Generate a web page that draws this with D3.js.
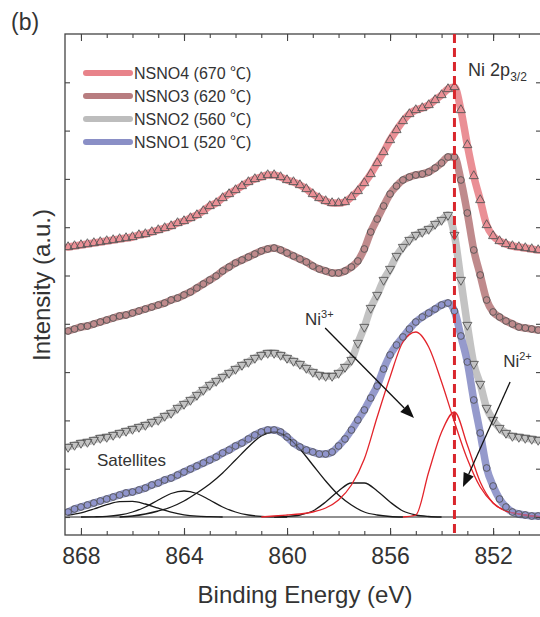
<!DOCTYPE html>
<html>
<head>
<meta charset="utf-8">
<script src="https://cdn.jsdelivr.net/npm/d3@7"></script>
<style>
body { margin: 0; background: #fff; }
svg { display: block; font-family: "Liberation Sans", Arial, sans-serif; }
</style>
</head>
<body>
<svg id="chart" width="540" height="617"></svg>
<script>
// binding energy grid of the measured spectra (eV)
const energy = [868.5, 868.25, 868, 867.75, 867.5, 867.25, 867, 866.75, 866.5, 866.25,
  866, 865.75, 865.5, 865.25, 865, 864.75, 864.5, 864.25, 864, 863.75,
  863.5, 863.25, 863, 862.75, 862.5, 862.25, 862, 861.75, 861.5, 861.25,
  861, 860.75, 860.5, 860.25, 860, 859.75, 859.5, 859.25, 859, 858.75,
  858.5, 858.25, 858, 857.75, 857.5, 857.25, 857, 856.75, 856.5, 856.25,
  856, 855.75, 855.5, 855.25, 855, 854.75, 854.5, 854.25, 854, 853.75,
  853.5, 853.25, 853, 852.75, 852.5, 852.25, 852, 851.75, 851.5, 851.25,
  851, 850.75, 850.5, 850.25, 850];

// stacked intensities (a.u., offset already included)
const nsno4 = [270, 271, 272, 273, 274, 275, 276, 277, 278, 279,
  280, 282, 283, 285, 287, 289, 291, 294, 296, 299,
  302, 306, 311, 314, 319, 323, 327, 331, 335, 338,
  340, 342, 342, 340, 337, 335, 332, 328, 323, 319,
  316, 314, 314, 315, 320, 326, 334, 343, 354, 365,
  377, 387, 396, 403, 407, 409, 412, 417, 422, 428,
  430, 407, 372, 341, 317, 292, 281, 276, 273, 271,
  270, 269, 268, 267, 267];
const nsno3 = [186, 188, 190, 191, 193, 195, 197, 199, 201, 202,
  204, 206, 208, 210, 212, 214, 217, 219, 222, 225,
  229, 233, 237, 241, 246, 250, 254, 257, 260, 263,
  266, 268, 269, 267, 264, 261, 258, 255, 251, 248,
  246, 244, 244, 246, 250, 256, 268, 285, 298, 311,
  323, 331, 337, 340, 342, 343, 345, 349, 354, 360,
  360, 337, 304, 267, 242, 217, 205, 200, 196, 193,
  190, 189, 188, 187, 187];
const nsno2 = [70, 72, 74, 75, 77, 79, 80, 82, 84, 86,
  88, 90, 92, 95, 97, 101, 104, 109, 113, 117,
  122, 127, 132, 136, 140, 144, 148, 152, 155, 159,
  162, 164, 164, 162, 159, 156, 153, 149, 145, 142,
  141, 141, 144, 150, 157, 174, 190, 209, 222, 237,
  248, 261, 270, 277, 282, 285, 288, 293, 297, 302,
  282, 237, 192, 153, 133, 109, 97, 89, 84, 81,
  80, 79, 78, 77, 77];
const nsno1 = [5, 8, 10, 12, 14, 16, 18, 20, 22, 24,
  25, 27, 29, 32, 34, 37, 39, 42, 45, 48,
  51, 54, 57, 60, 64, 67, 71, 74, 78, 82,
  85, 87, 87, 85, 80, 74, 70, 67, 65, 63,
  63, 65, 71, 78, 87, 97, 107, 119, 131, 148,
  162, 172, 180, 188, 195, 200, 204, 208, 212, 214,
  206, 181, 155, 117, 84, 49, 31, 18, 10, 5,
  3, 2, 1, 1, 0];

const seriesNames = ["NSNO4 (670 ℃)", "NSNO3 (620 ℃)", "NSNO2 (560 ℃)", "NSNO1 (520 ℃)"];

// fitted components of NSNO1, on a coarser grid
const compEnergy = [868.5, 868, 867.5, 867, 866.5, 866, 865.5, 865, 864.5, 864,
  863.5, 863, 862.5, 862, 861.5, 861, 860.5, 860, 859.5, 859,
  858.5, 858, 857.5, 857, 856.5, 856, 855.5, 855, 854.5, 854,
  853.5, 853, 852.5, 852, 851.5, 851, 850.5, 850];
const satA = [0, 0, 0, 0, 0, 1, 3, 6, 10, 16, 24, 33, 44, 57, 70, 81, 85, 80, 68, 52,
  36, 22, 12, 5, 2, 0.5, 0, 0, 0, 0, 0, 0, 0, 0, 0, 0, 0, 0];
const satB = [0, 0, 0, 0, 0, 0, 0, 0, 0, 0, 0, 0, 0, 0, 0, 0, 0, 0.5, 2, 6,
  15, 26, 34, 34, 26, 15, 6, 2, 0.5, 0, 0, 0, 0, 0, 0, 0, 0, 0];
const satC = [0, 0, 0.2, 0.6, 2, 5, 10, 17, 23.5, 26, 23.5, 17, 10, 5, 2, 0.6, 0.2, 0, 0, 0,
  0, 0, 0, 0, 0, 0, 0, 0, 0, 0, 0, 0, 0, 0, 0, 0, 0, 0];
const satD = [1.8, 4.2, 8, 12.3, 15.4, 15.7, 13, 8.8, 4.9, 2.2, 0.8, 0.3, 0, 0, 0, 0, 0, 0, 0, 0,
  0, 0, 0, 0, 0, 0, 0, 0, 0, 0, 0, 0, 0, 0, 0, 0, 0, 0];
const ni3 = [0, 0, 0, 0, 0, 0, 0, 0, 0, 0, 0, 0, 0, 0, 0, 0, 1, 2, 3, 5,
  9, 17, 32, 58, 100, 140, 175, 185, 170, 135, 95, 58, 30, 14, 6, 3, 1, 0];
const ni2 = [0, 0, 0, 0, 0, 0, 0, 0, 0, 0, 0, 0, 0, 0, 0, 0, 0, 0, 0, 0,
  0, 0, 0, 0, 0, 0, 0, 2, 45, 85, 105, 72, 35, 14, 6, 3, 1, 0];

const xMajor = [868, 864, 860, 856, 852];
const xMinor = [868, 867, 866, 865, 864, 863, 862, 861, 860, 859, 858, 857, 856, 855, 854, 853, 852, 851];
const yTicks = [0, 48.3, 96.6, 144.9, 193.2, 241.5, 289.8, 338.1, 386.4, 434.7];
const refLine = 853.5;

const svg = d3.select("#chart");
const plotLeft = 65, plotRight = 541, plotTop = 34, plotBottom = 535;
const x = d3.scaleLinear().domain([868.62, 850.14]).range([plotLeft, plotRight]);
const y = d3.scaleLinear().domain([-18, 483]).range([plotBottom, plotTop]);

const styles = [
  { color: "#e8838a", symbol: d3.symbolTriangle, rot: 0, fill: "none" },
  { color: "#b87d80", symbol: d3.symbolCircle, rot: 0, fill: "none" },
  { color: "#bdbdbd", symbol: d3.symbolTriangle, rot: 180, fill: "none" },
  { color: "#8a8fc6", symbol: d3.symbolCircle, rot: 0, fill: "rgba(140,146,205,0.55)" }
];
const series = [nsno4, nsno3, nsno2, nsno1];

svg.append("defs").append("clipPath").attr("id", "clip")
  .append("rect").attr("x", plotLeft).attr("y", plotTop)
  .attr("width", plotRight - plotLeft).attr("height", plotBottom - plotTop);

const plot = svg.append("g").attr("clip-path", "url(#clip)");

const line = d3.line().x(d => x(d[0])).y(d => y(d[1])).curve(d3.curveMonotoneX);

// thick fit bands
series.forEach((vals, i) => {
  plot.append("path")
    .datum(d3.zip(energy, vals))
    .attr("d", line)
    .attr("fill", "none")
    .attr("stroke", styles[i].color)
    .attr("stroke-width", 7.5)
    .attr("stroke-linecap", "round")
    .attr("stroke-linejoin", "round")
    .attr("opacity", 0.9);
});

// baseline of the fit
plot.append("line")
  .attr("x1", plotLeft).attr("x2", plotRight)
  .attr("y1", y(0)).attr("y2", y(0))
  .attr("stroke", "#222").attr("stroke-width", 1.2);

// keep only the non-zero part of a component (plus one point each side)
function trimmed(vals) {
  let a = vals.findIndex(v => v > 0);
  let b = vals.length - 1 - vals.slice().reverse().findIndex(v => v > 0);
  a = Math.max(0, a - 1);
  b = Math.min(vals.length - 1, b + 1);
  return d3.range(a, b + 1).map(i => [compEnergy[i], vals[i]]);
}

[satA, satB, satC, satD].forEach(vals => {
  plot.append("path").datum(trimmed(vals)).attr("d", line)
    .attr("fill", "none").attr("stroke", "#1a1a1a").attr("stroke-width", 1.3);
});
[ni3, ni2].forEach(vals => {
  plot.append("path").datum(trimmed(vals)).attr("d", line)
    .attr("fill", "none").attr("stroke", "#e3242b").attr("stroke-width", 1.3);
});

// data markers
series.forEach((vals, i) => {
  const st = styles[i];
  const sym = d3.symbol(st.symbol, 36);
  plot.append("g").selectAll("path")
    .data(d3.zip(energy, vals))
    .join("path")
    .attr("transform", d => `translate(${x(d[0])},${y(d[1])}) rotate(${st.rot})`)
    .attr("d", sym)
    .attr("fill", st.fill)
    .attr("stroke", "#555")
    .attr("stroke-width", 0.9);
});

// axes (ticks inward, no domain lines)
function clean(g) { g.select(".domain").remove(); g.selectAll("line").attr("stroke", "#444").attr("stroke-width", 1.1); }

svg.append("g").attr("transform", `translate(0,${plotBottom})`)
  .call(d3.axisBottom(x).tickValues(xMinor).tickSize(-4).tickFormat(""))
  .call(clean);
svg.append("g").attr("transform", `translate(0,${plotBottom})`)
  .call(d3.axisBottom(x).tickValues(xMajor).tickSize(-7).tickPadding(13).tickFormat(d3.format("d")))
  .call(clean)
  .call(g => g.selectAll("text").attr("font-size", 23).attr("fill", "#333")
    .attr("font-family", "Liberation Sans, Arial, sans-serif"));
svg.append("g").attr("transform", `translate(0,${plotTop})`)
  .call(d3.axisTop(x).tickValues(xMinor).tickSize(-4).tickFormat(""))
  .call(clean);
svg.append("g").attr("transform", `translate(0,${plotTop})`)
  .call(d3.axisTop(x).tickValues(xMajor).tickSize(-7).tickFormat(""))
  .call(clean);
svg.append("g").attr("transform", `translate(${plotLeft},0)`)
  .call(d3.axisLeft(y).tickValues(yTicks).tickSize(-5).tickFormat(""))
  .call(clean);
svg.append("g").attr("transform", `translate(${plotRight},0)`)
  .call(d3.axisRight(y).tickValues(yTicks).tickSize(-5).tickFormat(""))
  .call(clean);

svg.append("rect")
  .attr("x", plotLeft).attr("y", plotTop)
  .attr("width", plotRight - plotLeft).attr("height", plotBottom - plotTop)
  .attr("fill", "none").attr("stroke", "#444").attr("stroke-width", 1.3);

// Ni 2p3/2 reference position
svg.append("line")
  .attr("x1", x(refLine)).attr("x2", x(refLine))
  .attr("y1", plotTop).attr("y2", plotBottom)
  .attr("stroke", "#d9262c").attr("stroke-width", 3)
  .attr("stroke-dasharray", "9,5");

const text = svg.append("g").attr("fill", "#333");

// axis titles
text.append("text")
  .attr("x", (plotLeft + plotRight) / 2 + 2).attr("y", 603)
  .attr("text-anchor", "middle").attr("font-size", 24)
  .text("Binding Energy (eV)");
text.append("text")
  .attr("transform", "translate(50,285) rotate(-90)")
  .attr("text-anchor", "middle").attr("font-size", 24)
  .text("Intensity (a.u.)");
text.append("text")
  .attr("x", 11).attr("y", 30).attr("font-size", 23)
  .text("(b)");

// annotations
const peakLabel = text.append("text")
  .attr("x", x(852.97)).attr("y", y(441)).attr("font-size", 18);
peakLabel.append("tspan").text("Ni 2p");
peakLabel.append("tspan").attr("font-size", 12).attr("dy", 5).text("3/2");

text.append("text")
  .attr("x", x(867.38)).attr("y", y(51)).attr("font-size", 17)
  .text("Satellites");

const arrows = [
  { sup: "3+", tx: 859.3, ty: 192, from: [858.52, 189], to: [855.07, 99] },
  { sup: "2+", tx: 851.61, ty: 150, from: [851.34, 135], to: [853.17, 30] }
];

arrows.forEach(a => {
  const t = text.append("text").attr("x", x(a.tx)).attr("y", y(a.ty)).attr("font-size", 17);
  t.append("tspan").text("Ni");
  t.append("tspan").attr("font-size", 11).attr("dy", -7).text(a.sup);

  const x0 = x(a.from[0]), y0 = y(a.from[1]);
  const x1 = x(a.to[0]), y1 = y(a.to[1]);
  const ang = Math.atan2(y1 - y0, x1 - x0);
  const len = 14, hw = 5.5;
  const bx = x1 - len * Math.cos(ang), by = y1 - len * Math.sin(ang);
  svg.append("line")
    .attr("x1", x0).attr("y1", y0).attr("x2", bx).attr("y2", by)
    .attr("stroke", "#111").attr("stroke-width", 1.3);
  svg.append("path")
    .attr("d", `M${x1},${y1}L${bx - hw * Math.sin(ang)},${by + hw * Math.cos(ang)}L${bx + hw * Math.sin(ang)},${by - hw * Math.cos(ang)}Z`)
    .attr("fill", "#111");
});

// legend (the degree sign comes from a CJK font, as wide as in the original)
const legend = svg.append("g");
seriesNames.forEach((name, i) => {
  const ly = 73 + i * 23;
  const parts = name.split("℃");
  legend.append("line")
    .attr("x1", 86).attr("x2", 130).attr("y1", ly).attr("y2", ly)
    .attr("stroke", styles[i].color).attr("stroke-width", 6)
    .attr("stroke-linecap", "round");
  const t = legend.append("text")
    .attr("x", 134).attr("y", ly).attr("dy", "0.36em")
    .attr("font-size", 16).attr("fill", "#333");
  t.append("tspan").text(parts[0]);
  t.append("tspan").attr("font-family", "Noto Sans CJK SC").text("℃");
  t.append("tspan").text(parts[1]);
});
</script>
</body>
</html>
